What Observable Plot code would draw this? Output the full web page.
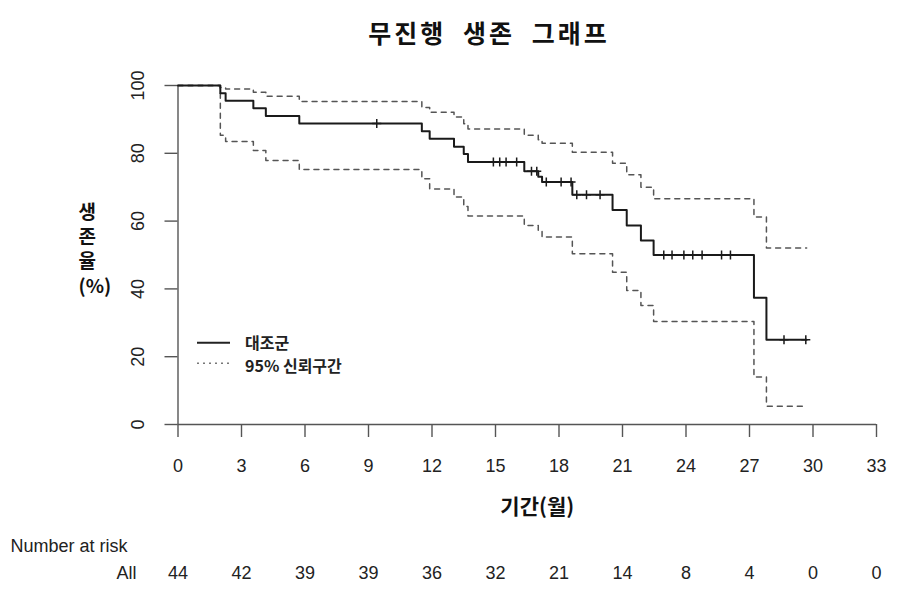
<!DOCTYPE html>
<html>
<head>
<meta charset="utf-8">
<script src="https://cdn.jsdelivr.net/npm/d3@7"></script>
<script src="https://cdn.jsdelivr.net/npm/@observablehq/plot@0.6"></script>
<style>
  body { margin: 0; background: #fff; }
  #wrap { position: relative; width: 900px; height: 592px; overflow: hidden; background: #fff; }
  #title { position: absolute; left: 489px; top: 18px; transform: translateX(-50%); white-space: nowrap;
           font-family: "Noto Sans CJK KR", sans-serif; font-weight: bold; font-size: 25px; line-height: 28px;
           letter-spacing: 3px; word-spacing: 8px; color: #111; }
  #chart { position: absolute; left: 0; top: 62px; }
  #legend { position: absolute; left: 190px; top: 330px; }
</style>
</head>
<body>
<div id="wrap">
  <div id="title">무진행 생존 그래프</div>
  <div id="chart"></div>
  <svg id="legend" width="200" height="46">
    <line x1="7" x2="40" y1="12.7" y2="12.7" stroke="#222" stroke-width="2"></line>
    <line x1="7" x2="40" y1="33.3" y2="33.3" stroke="#777" stroke-width="1.5" stroke-dasharray="2,4"></line>
    <text x="55" y="12" dominant-baseline="central" font-family="Noto Sans CJK KR, sans-serif" font-weight="bold" font-size="16" fill="#222">대조군</text>
    <text x="55" y="35" dominant-baseline="central" font-family="Noto Sans CJK KR, sans-serif" font-weight="bold" font-size="16" fill="#222">95% 신뢰구간</text>
  </svg>
</div>
<script>
// ---- data ----
const eventTimes = [0, 2.0, 2.25, 3.56, 4.15, 5.73, 11.52, 11.89, 13.04, 13.5, 13.7, 16.36, 17.02, 17.2, 18.63, 20.53, 21.2, 21.87, 22.47, 27.21, 27.8, 29.7];
const survival   = [100, 97.7, 95.5, 93.3, 91.0, 88.8, 86.5, 84.3, 81.9, 79.8, 77.4, 74.7, 73.1, 71.5, 67.8, 63.3, 58.7, 54.3, 50.0, 37.4, 25.0, 25.0];
const upperCI    = [100, 99.4, 99.0, 98.0, 96.8, 95.3, 93.5, 92.1, 90.7, 88.7, 87.2, 85.3, 84.0, 83.0, 80.3, 77.1, 73.7, 70.0, 66.6, 61.2, 52.1, 52.1];
const lowerCI    = [100, 85.3, 83.5, 80.8, 77.9, 75.2, 72.5, 69.5, 67.1, 64.3, 61.5, 58.7, 57.0, 55.3, 50.4, 44.9, 39.5, 35.1, 30.4, 14.0, 5.4, 5.4];

const censorTimes = [9.39, 14.9, 15.2, 15.5, 16.0, 16.7, 16.95, 17.4, 18.1, 18.57, 18.84, 19.3, 19.94, 22.95, 23.34, 23.9, 24.32, 24.76, 25.68, 26.1, 28.63, 29.66];
const censorSurv  = [88.8, 77.4, 77.4, 77.4, 77.4, 74.7, 74.7, 71.5, 71.5, 71.5, 67.8, 67.8, 67.8, 50.0, 50.0, 50.0, 50.0, 50.0, 50.0, 50.0, 25.0, 25.0];

const xTicks = [0, 3, 6, 9, 12, 15, 18, 21, 24, 27, 30, 33];
const yTicks = [0, 20, 40, 60, 80, 100];
const riskCounts = [44, 42, 39, 39, 36, 32, 21, 14, 8, 4, 0, 0];

const xLabel = "기간(월)";
const yLabel = "생\n존\n율\n(%)";
const riskTitle = "Number at risk";
const riskGroup = "All";

// ---- build tables ----
const km = eventTimes.map((t, i) => ({t, s: survival[i], up: upperCI[i], lo: lowerCI[i]}));
const censor = censorTimes.map((t, i) => ({t, s: censorSurv[i]}));
const risk = xTicks.map((t, i) => ({t, n: riskCounts[i]}));

const plusSymbol = {
  draw(ctx, size) {
    const r = Math.sqrt(size / Math.PI);
    ctx.moveTo(0, -r); ctx.lineTo(0, r);
    ctx.moveTo(-r, 0); ctx.lineTo(r, 0);
  }
};

const latin = "Liberation Sans, Arial, sans-serif";
const cjk = "Noto Sans CJK KR, sans-serif";

const chart = Plot.plot({
  width: 900,
  height: 530,
  marginLeft: 177.5,
  marginRight: 24,
  marginTop: 23,
  marginBottom: 168,
  x: {domain: [0, 33]},
  y: {domain: [0, 100]},
  style: {fontFamily: latin, fontSize: "18px", color: "#222", background: "white", overflow: "visible"},
  marks: [
    Plot.axisX({ticks: xTicks, tickSize: 13, tickPadding: 22, stroke: "#555", strokeWidth: 1.4, fontSize: 18, fill: "#222", label: null}),
    Plot.axisY({ticks: yTicks, tickSize: 13, tickPadding: 21, tickRotate: -90, stroke: "#555", strokeWidth: 1.4, fontSize: 18, fill: "#222", label: null}),
    Plot.ruleY([0], {stroke: "#555", strokeWidth: 1.4}),
    Plot.ruleX([0], {stroke: "#555", strokeWidth: 1.4}),
    Plot.line(km, {x: "t", y: "up", curve: "step-after", stroke: "#555", strokeWidth: 1.5, strokeDasharray: "5,5"}),
    Plot.line(km, {x: "t", y: "lo", curve: "step-after", stroke: "#555", strokeWidth: 1.5, strokeDasharray: "5,5"}),
    Plot.line(km, {x: "t", y: "s", curve: "step-after", stroke: "#1a1a1a", strokeWidth: 2}),
    Plot.dot(censor, {x: "t", y: "s", r: 4.5, symbol: plusSymbol, stroke: "#1a1a1a", strokeWidth: 1.5, fill: "none"}),
    // axis titles
    Plot.text([xLabel], {text: d => d, frameAnchor: "bottom", dx: 10, dy: 89, fontFamily: cjk, fontWeight: "bold", fontSize: 21, fill: "#111"}),
    Plot.text([yLabel], {text: d => d, frameAnchor: "left", dx: -99.5, dy: -7, lineHeight: 1.3, fontFamily: cjk, fontWeight: "bold", fontSize: 19, fill: "#111"}),
    // number at risk table
    Plot.text([riskTitle], {text: d => d, frameAnchor: "bottom-left", dx: -167.5, dy: 127, textAnchor: "start", fontSize: 18, fill: "#222"}),
    Plot.text([riskGroup], {text: d => d, frameAnchor: "bottom-left", dx: -41.5, dy: 154, textAnchor: "end", fontSize: 18, fill: "#222"}),
    Plot.text(risk, {x: "t", text: "n", frameAnchor: "bottom", dy: 154, fontSize: 18, fill: "#222"})
  ]
});
document.getElementById("chart").appendChild(chart);
</script>
</body>
</html>
